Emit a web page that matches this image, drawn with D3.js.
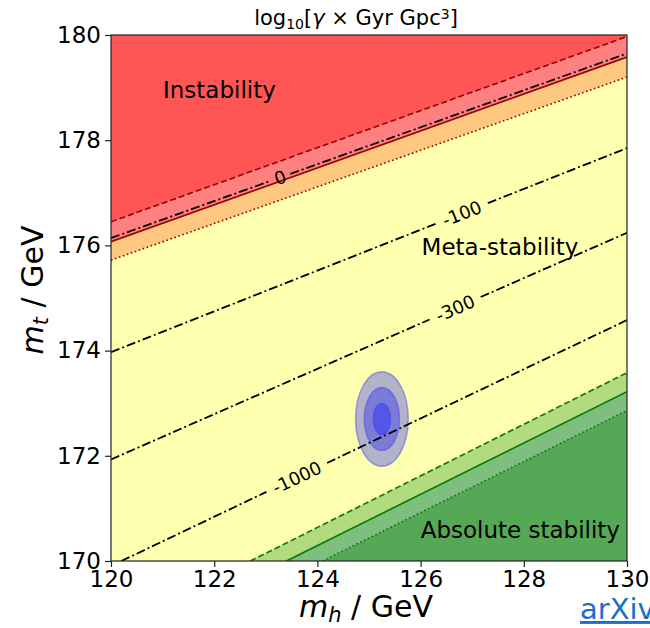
<!DOCTYPE html>
<html>
<head>
<meta charset="utf-8">
<script src="https://cdn.jsdelivr.net/npm/d3@7"></script>
<style>
  body { margin: 0; background: #fff; }
  text { font-family: "DejaVu Sans", sans-serif; }
</style>
</head>
<body>
<div id="chart"></div>
<script>
// axis ticks
const xTicks = [120, 122, 124, 126, 128, 130];
const yTicks = [170, 172, 174, 176, 178, 180];

// boundary lines, [m_h, m_t] end points
const redDashed = [[120, 176.45], [130, 179.97]];
const redSolid = [[120, 176.07], [130, 179.58]];
const redDotted = [[120, 175.72], [130, 179.20]];
const greenDashed = [[122.70, 170], [130, 173.58]];
const greenSolid = [[123.40, 170], [130, 173.22]];
const greenDotted = [[124.10, 170], [130, 172.86]];

// log10 lifetime contours
const contourLevels = ['0', '-100', '-300', '-1000'];
const contourLines = [
    [[120, 176.14], [130, 179.65]],
    [[120, 173.97], [130, 177.85]],
    [[120, 171.93], [130, 176.24]],
    [[120.2, 170], [130, 174.58]]
];
const contourLabelX = [123.28, 126.8, 126.67, 123.6];

// measurement
const measured = [125.25, 172.7];
const sigma = [0.17, 0.30];
const sigmaLevels = [3, 2, 1];

const width = 650, height = 628;
const margin = { left: 111, top: 35, right: 23, bottom: 67 };
const plotW = width - margin.left - margin.right;
const plotH = height - margin.top - margin.bottom;

const x = d3.scaleLinear().domain([120, 130]).range([0, plotW]);
const y = d3.scaleLinear().domain([170, 180]).range([plotH, 0]);

const svg = d3.select('#chart').append('svg')
    .attr('width', width)
    .attr('height', height);

svg.append('defs').append('clipPath')
    .attr('id', 'plot-clip')
    .append('rect')
    .attr('width', plotW)
    .attr('height', plotH);

const g = svg.append('g')
    .attr('transform', `translate(${margin.left},${margin.top})`);

const area = g.append('g').attr('clip-path', 'url(#plot-clip)');

const line = d3.line().x(d => x(d[0])).y(d => y(d[1]));
const above = l => [...l, [130, 180], [120, 180]];
const below = l => [...l, [130, 170], [120, 170]];

// background: meta-stability
area.append('rect')
    .attr('width', plotW)
    .attr('height', plotH)
    .attr('fill', '#ffffb0');

const fills = [
    { pts: above(redDotted), color: '#ffc880' },
    { pts: above(redSolid), color: '#ff8080' },
    { pts: above(redDashed), color: '#ff5555' },
    { pts: below(greenDashed), color: '#b2da80' },
    { pts: below(greenSolid), color: '#80be80' },
    { pts: below(greenDotted), color: '#55a855' }
];
area.selectAll('path.fill')
    .data(fills)
    .enter()
    .append('path')
    .attr('class', 'fill')
    .attr('d', d => line(d.pts) + 'Z')
    .attr('fill', d => d.color);

// measurement ellipses
area.selectAll('ellipse')
    .data(sigmaLevels)
    .enter()
    .append('ellipse')
    .attr('cx', x(measured[0]))
    .attr('cy', y(measured[1]))
    .attr('rx', k => x(measured[0] + k * sigma[0]) - x(measured[0]))
    .attr('ry', k => y(measured[1]) - y(measured[1] + k * sigma[1]))
    .attr('fill', 'rgba(0,0,255,0.3)')
    .attr('stroke', 'rgba(60,60,255,0.45)')
    .attr('stroke-width', 1.5);

// boundary lines
const bounds = [
    { pts: redDashed, color: '#990000', dash: '6,3' },
    { pts: redSolid, color: '#990000', dash: null },
    { pts: redDotted, color: '#990000', dash: '1.6,2.6' },
    { pts: greenDashed, color: '#007a00', dash: '6,3' },
    { pts: greenSolid, color: '#007a00', dash: null },
    { pts: greenDotted, color: '#007a00', dash: '1.6,2.6' }
];
area.selectAll('path.bound')
    .data(bounds)
    .enter()
    .append('path')
    .attr('class', 'bound')
    .attr('d', d => line(d.pts))
    .attr('fill', 'none')
    .attr('stroke', d => d.color)
    .attr('stroke-width', 1.6)
    .attr('stroke-dasharray', d => d.dash);

// contours with inline labels
const labelSize = 18;
contourLines.forEach((pts, i) => {
    const p0 = [x(pts[0][0]), y(pts[0][1])];
    const p1 = [x(pts[1][0]), y(pts[1][1])];
    const len = Math.hypot(p1[0] - p0[0], p1[1] - p0[1]);
    const u = [(p1[0] - p0[0]) / len, (p1[1] - p0[1]) / len];
    const lx = x(contourLabelX[i]);
    const t = (lx - p0[0]) / u[0];
    const L = [p0[0] + t * u[0], p0[1] + t * u[1]];
    const gap = contourLevels[i].length * 0.636 * labelSize / 2 + 5;
    const segs = [
        [p0, [L[0] - gap * u[0], L[1] - gap * u[1]]],
        [[L[0] + gap * u[0], L[1] + gap * u[1]], p1]
    ];
    segs.forEach(s => {
        area.append('line')
            .attr('x1', s[0][0]).attr('y1', s[0][1])
            .attr('x2', s[1][0]).attr('y2', s[1][1])
            .attr('stroke', '#000')
            .attr('stroke-width', 1.8)
            .attr('stroke-dasharray', '9,3,2,3');
    });
    const angle = Math.atan2(u[1], u[0]) * 180 / Math.PI;
    area.append('text')
        .attr('transform', `translate(${L[0]},${L[1]}) rotate(${angle})`)
        .attr('text-anchor', 'middle')
        .attr('dy', '0.36em')
        .style('font-size', labelSize + 'px')
        .attr('fill', '#000')
        .text(contourLevels[i]);
});

// region labels
const regionText = [
    { t: 'Instability', x: 52, y: 63, anchor: 'start' },
    { t: 'Meta-stability', x: 389, y: 220, anchor: 'middle' },
    { t: 'Absolute stability', x: 509, y: 503, anchor: 'end' }
];
g.selectAll('text.region')
    .data(regionText)
    .enter()
    .append('text')
    .attr('class', 'region')
    .attr('x', d => d.x)
    .attr('y', d => d.y)
    .attr('text-anchor', d => d.anchor)
    .style('font-size', '23px')
    .attr('fill', '#000')
    .text(d => d.t);

// axes
const xAxis = g.append('g')
    .attr('transform', `translate(0,${plotH})`)
    .call(d3.axisBottom(x).tickValues(xTicks).tickSize(6).tickPadding(4));
const yAxis = g.append('g')
    .call(d3.axisLeft(y).tickValues(yTicks).tickSize(6).tickPadding(4));
[xAxis, yAxis].forEach(a => {
    a.select('.domain').remove();
    a.selectAll('line').attr('stroke', '#222').attr('stroke-width', 1.2);
    a.selectAll('text')
        .style('font-size', '23px')
        .style('font-family', '"DejaVu Sans", sans-serif')
        .attr('fill', '#000');
});

g.append('rect')
    .attr('width', plotW)
    .attr('height', plotH)
    .attr('fill', 'none')
    .attr('stroke', '#222')
    .attr('stroke-width', 1.2);

// title
const title = svg.append('text')
    .attr('x', 356)
    .attr('y', 25)
    .attr('text-anchor', 'middle')
    .style('font-size', '21px')
    .attr('fill', '#000');
title.append('tspan').text('log');
title.append('tspan').attr('baseline-shift', '-25%').style('font-size', '14px').text('10');
title.append('tspan').text('[');
title.append('tspan').style('font-style', 'italic').text('γ');
title.append('tspan').text(' × Gyr Gpc');
title.append('tspan').attr('baseline-shift', '45%').style('font-size', '14px').text('3');
title.append('tspan').text(']');

// axis labels
const xl = svg.append('text')
    .attr('x', 366)
    .attr('y', 617)
    .attr('text-anchor', 'middle')
    .style('font-size', '30px')
    .attr('fill', '#000');
xl.append('tspan').style('font-style', 'italic').text('m');
xl.append('tspan').style('font-style', 'italic').style('font-size', '21px').attr('baseline-shift', '-25%').text('h');
xl.append('tspan').text(' / GeV');

const yl = svg.append('text')
    .attr('transform', 'translate(43,290) rotate(-90)')
    .attr('text-anchor', 'middle')
    .style('font-size', '30px')
    .attr('fill', '#000');
yl.append('tspan').style('font-style', 'italic').text('m');
yl.append('tspan').style('font-style', 'italic').style('font-size', '21px').attr('baseline-shift', '-25%').text('t');
yl.append('tspan').text(' / GeV');

svg.append('text')
    .attr('x', 580)
    .attr('y', 619)
    .style('font-size', '29px')
    .style('text-decoration', 'underline')
    .attr('fill', '#1a6fc8')
    .text('arXiv');
</script>
</body>
</html>
